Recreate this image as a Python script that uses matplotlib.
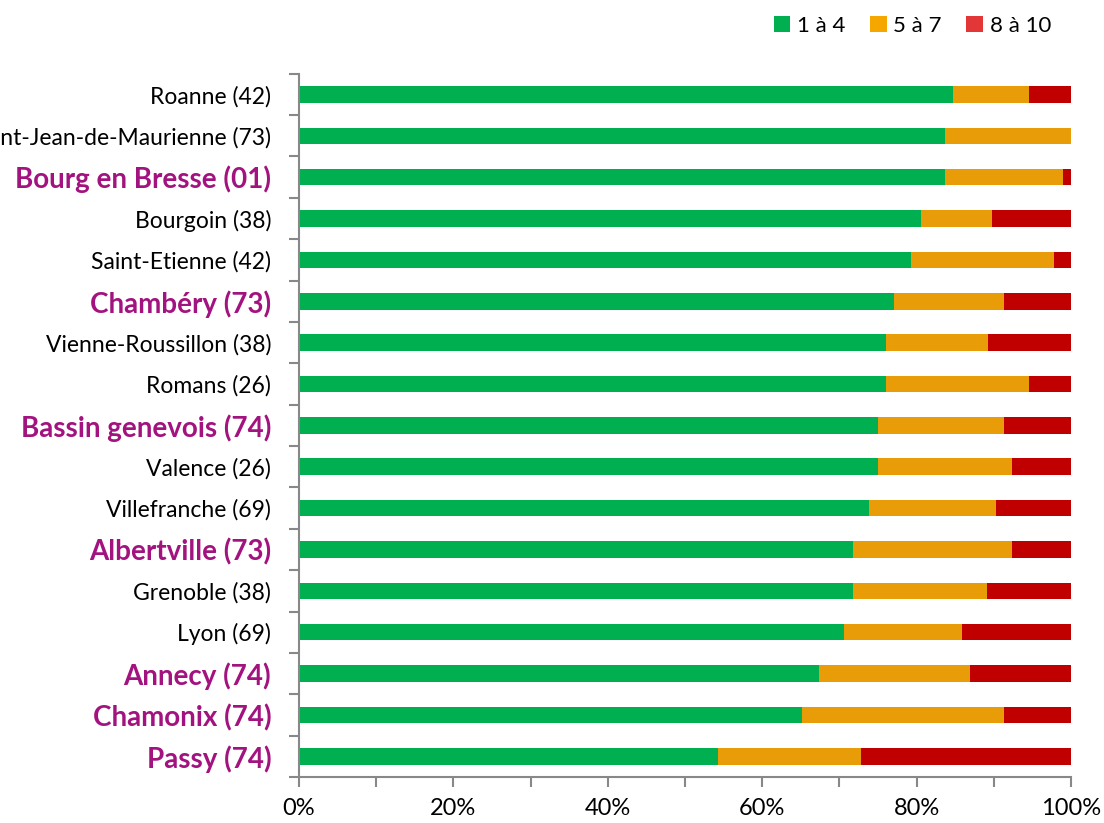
import numpy as np
import matplotlib.pyplot as plt
from matplotlib.patches import Patch

plt.rcParams['font.family'] = ['Lato', 'DejaVu Sans']

cities = ['Roanne (42)', 'Saint-Jean-de-Maurienne (73)', 'Bourg en Bresse (01)',
          'Bourgoin (38)', 'Saint-Etienne (42)', 'Chambéry (73)',
          'Vienne-Roussillon (38)', 'Romans (26)', 'Bassin genevois (74)',
          'Valence (26)', 'Villefranche (69)', 'Albertville (73)',
          'Grenoble (38)', 'Lyon (69)', 'Annecy (74)', 'Chamonix (74)', 'Passy (74)']
highlight = ['Bourg en Bresse (01)', 'Chambéry (73)', 'Bassin genevois (74)',
             'Albertville (73)', 'Annecy (74)', 'Chamonix (74)', 'Passy (74)']

# share of days (%) per class
low = [84.7, 83.7, 83.7, 80.6, 79.3, 77.1, 76.0, 76.0, 75.0, 75.0, 73.8, 71.8,
       71.8, 70.6, 67.4, 65.2, 54.3]
mid = [9.9, 16.3, 15.3, 9.2, 18.5, 14.2, 13.2, 18.6, 16.3, 17.4, 16.5, 20.6,
       17.3, 15.3, 19.5, 26.1, 18.5]
high = [100 - a - b for a, b in zip(low, mid)]

series = ['1 à 4', '5 à 7', '8 à 10']
colors = ['#00B050', '#E89C07', '#C00000']
legend_colors = ['#00B050', '#F5A700', '#E33636']
purple = '#A3137F'

fig = plt.figure(figsize=(11.04, 8.23), dpi=100)
ax = fig.add_axes([0.2708, 0.0559, 0.6993, 0.8545])

y = np.arange(len(cities))
left = np.zeros(len(cities))
for vals, c in zip([low, mid, high], colors):
    ax.barh(y, vals, left=left, height=0.4, color=c, edgecolor='none')
    left += np.array(vals)

ax.set_xlim(0, 100)
ax.set_ylim(len(cities) - 0.5, -0.5)

ax.set_yticks(y)
ax.set_yticklabels(cities)
ax.set_yticks(np.arange(len(cities) + 1) - 0.5, minor=True)
ax.tick_params(axis='y', which='major', length=0, pad=20, labelsize=16.5)
ax.tick_params(axis='y', which='minor', length=7, width=1.5, color='#888888')
for lab in ax.get_yticklabels():
    if lab.get_text() in highlight:
        lab.set_color(purple)
        lab.set_fontweight('bold')
        lab.set_fontsize(20)

ax.set_xticks(np.arange(0, 101, 20))
ax.set_xticklabels([f'{v}%' for v in range(0, 101, 20)])
ax.set_xticks(np.arange(0, 101, 10), minor=True)
ax.tick_params(axis='x', which='both', length=7, width=1.5, color='#888888',
               labelsize=17, pad=8)

for s in ['top', 'right']:
    ax.spines[s].set_visible(False)
for s in ['left', 'bottom']:
    ax.spines[s].set_color('#888888')
    ax.spines[s].set_linewidth(1.5)

handles = [Patch(facecolor=c, label=l) for c, l in zip(legend_colors, series)]
fig.legend(handles=handles, loc='center right', bbox_to_anchor=(0.962, 0.969),
           ncol=3, frameon=False, fontsize=16, handlelength=0.75, handleheight=0.75,
           handletextpad=0.3, columnspacing=1.1, borderpad=0)

fig.savefig('out.png', dpi=100)
